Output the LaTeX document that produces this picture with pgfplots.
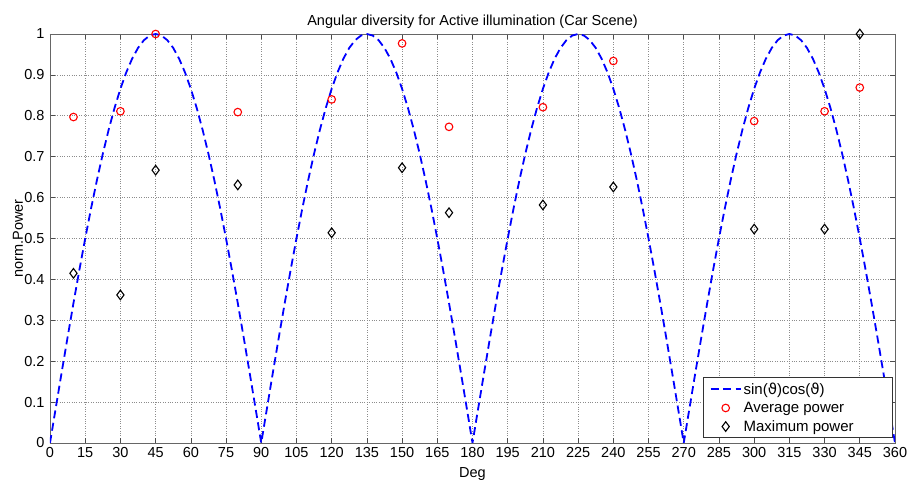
\documentclass[border=0pt]{standalone}
\usepackage{pgfplots}
\pgfplotsset{compat=1.18}
\usepackage{fontspec}
\setmainfont{Liberation Sans}
\newfontfamily\dejavu{DejaVu Sans}

\pgfplotstableread{
x y
10 0.797
30 0.811
45 1.000
80 0.809
120 0.840
150 0.977
170 0.773
210 0.821
240 0.934
300 0.787
330 0.811
345 0.869
}\avgdata

\pgfplotstableread{
x y
10 0.415
30 0.362
45 0.667
80 0.631
120 0.514
150 0.673
170 0.563
210 0.582
240 0.626
300 0.523
330 0.523
345 1.000
}\maxdata

\begin{document}
\begin{tikzpicture}
\path[use as bounding box] (-50pt,-39pt) rectangle (864pt,443pt);
\begin{axis}[at={(0pt,0pt)}, anchor=south west, scale only axis, width=845pt, height=409pt,
  xmin=0, xmax=360, ymin=0, ymax=1,
  xtick={0,15,30,45,60,75,90,105,120,135,150,165,180,195,210,225,240,255,270,285,300,315,330,345,360},
  ytick={0,0.1,0.2,0.3,0.4,0.5,0.6,0.7,0.8,0.9,1},
  yticklabels={0,0.1,0.2,0.3,0.4,0.5,0.6,0.7,0.8,0.9,1},
  /pgf/number format/assume math mode=true,
  tick align=inside, xtick pos=both, ytick pos=both,
  major tick length=5pt,
  tick style={black!70, line width=0.6pt},
  grid=major, major grid style={dotted, black!45, line width=0.6pt},
  axis line style={black!60, line width=0.9pt},
  ticklabel style={font=\fontsize{14.5}{16}\selectfont},
  xticklabel style={yshift=-0.5pt},
  yticklabel style={xshift=-2pt},
  title={Angular diversity for Active illumination (Car Scene)},
  title style={font=\fontsize{14.5}{16}\selectfont, yshift=-4pt},
  xlabel={Deg}, ylabel={norm.Power},
  xlabel style={font=\fontsize{14.5}{16}\selectfont, yshift=-3pt},
  ylabel style={font=\fontsize{14.5}{16}\selectfont, yshift=-5.5pt},
  legend style={at={(rel axis cs:0.9976,0.012)}, anchor=south east,
    font=\fontsize{15}{17}\selectfont, draw=black!80, line width=0.7pt,
    cells={anchor=west}, row sep=2.5pt, inner xsep=6pt, inner ysep=3pt},
  legend image code/.code={\draw[#1] (0cm,0cm) -- (30pt,0cm);},
]
\addplot[blue, line width=1.8pt, dash pattern=on 8pt off 4.5pt] coordinates {
(0,0) (2.5,0.0872) (5,0.1736) (7.5,0.2588) (10,0.3420) (12.5,0.4226) (15,0.5) (17.5,0.5736) (20,0.6428) (22.5,0.7071) (25,0.7660) (27.5,0.8192) (30,0.8660) (32.5,0.9063) (35,0.9397) (37.5,0.9659) (40,0.9848) (42.5,0.9962) (45,1) (47.5,0.9962) (50,0.9848) (52.5,0.9659) (55,0.9397) (57.5,0.9063) (60,0.8660) (62.5,0.8192) (65,0.7660) (67.5,0.7071) (70,0.6428) (72.5,0.5736) (75,0.5) (77.5,0.4226) (80,0.3420) (82.5,0.2588) (85,0.1736) (87.5,0.0872)
(90,0) (92.5,0.0872) (95,0.1736) (97.5,0.2588) (100,0.3420) (102.5,0.4226) (105,0.5) (107.5,0.5736) (110,0.6428) (112.5,0.7071) (115,0.7660) (117.5,0.8192) (120,0.8660) (122.5,0.9063) (125,0.9397) (127.5,0.9659) (130,0.9848) (132.5,0.9962) (135,1) (137.5,0.9962) (140,0.9848) (142.5,0.9659) (145,0.9397) (147.5,0.9063) (150,0.8660) (152.5,0.8192) (155,0.7660) (157.5,0.7071) (160,0.6428) (162.5,0.5736) (165,0.5) (167.5,0.4226) (170,0.3420) (172.5,0.2588) (175,0.1736) (177.5,0.0872)
(180,0) (182.5,0.0872) (185,0.1736) (187.5,0.2588) (190,0.3420) (192.5,0.4226) (195,0.5) (197.5,0.5736) (200,0.6428) (202.5,0.7071) (205,0.7660) (207.5,0.8192) (210,0.8660) (212.5,0.9063) (215,0.9397) (217.5,0.9659) (220,0.9848) (222.5,0.9962) (225,1) (227.5,0.9962) (230,0.9848) (232.5,0.9659) (235,0.9397) (237.5,0.9063) (240,0.8660) (242.5,0.8192) (245,0.7660) (247.5,0.7071) (250,0.6428) (252.5,0.5736) (255,0.5) (257.5,0.4226) (260,0.3420) (262.5,0.2588) (265,0.1736) (267.5,0.0872)
(270,0) (272.5,0.0872) (275,0.1736) (277.5,0.2588) (280,0.3420) (282.5,0.4226) (285,0.5) (287.5,0.5736) (290,0.6428) (292.5,0.7071) (295,0.7660) (297.5,0.8192) (300,0.8660) (302.5,0.9063) (305,0.9397) (307.5,0.9659) (310,0.9848) (312.5,0.9962) (315,1) (317.5,0.9962) (320,0.9848) (322.5,0.9659) (325,0.9397) (327.5,0.9063) (330,0.8660) (332.5,0.8192) (335,0.7660) (337.5,0.7071) (340,0.6428) (342.5,0.5736) (345,0.5) (347.5,0.4226) (350,0.3420) (352.5,0.2588) (355,0.1736) (357.5,0.0872) (360,0)
};
\addlegendentry{sin({\dejavu ϑ})cos({\dejavu ϑ})}
\addplot[only marks, mark=o, mark size=3.8pt, mark options={red, line width=1.1pt}, legend image code/.code={\draw plot coordinates {(15pt,0cm)};}] table[x=x,y=y] {\avgdata};
\addlegendentry{Average power}
\addplot[only marks, mark=diamond, mark size=4.8pt, mark options={black, line width=1.1pt}, legend image code/.code={\draw plot coordinates {(15pt,0cm)};}] table[x=x,y=y] {\maxdata};
\addlegendentry{Maximum power\hspace*{31pt}}
\end{axis}
\end{tikzpicture}
\end{document}
